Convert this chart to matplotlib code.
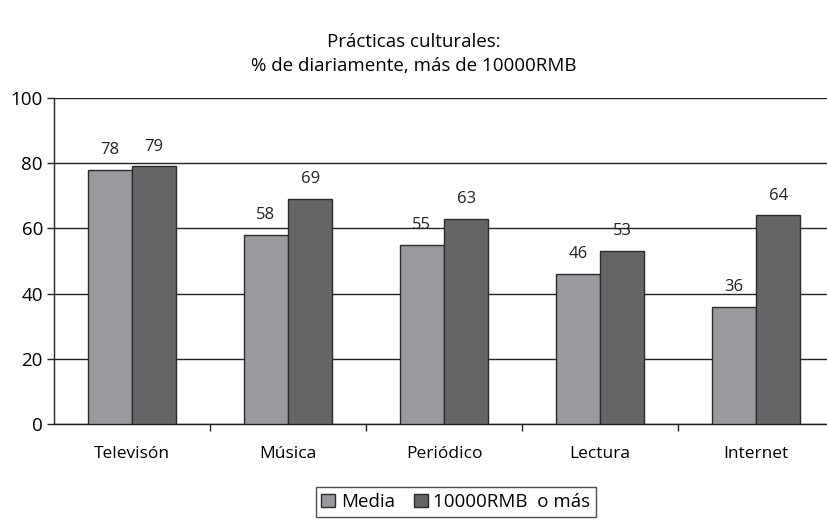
import numpy as np
import matplotlib.pyplot as plt

# Prácticas culturales, % diariamente
categorias = ["Televisón", "Música", "Periódico", "Lectura", "Internet"]
media = [78, 58, 55, 46, 36]
rmb_10000 = [79, 69, 63, 53, 64]
series_labels = ["Media", "10000RMB  o más"]

plt.rcParams["font.family"] = ["Open Sans", "DejaVu Sans"]

fig = plt.figure(figsize=(8.28, 5.22), dpi=100)
# plot area runs slightly past the right edge of the figure
ax = fig.add_axes([54 / 828, 98 / 522, 780 / 828, (424 - 98) / 522])

x = np.arange(len(categorias))
w = 0.285
b1 = ax.bar(x - w / 2, media, w, color="#9a9a9e", edgecolor="#2a2a2a",
            linewidth=1.0, label=series_labels[0], zorder=3)
b2 = ax.bar(x + w / 2, rmb_10000, w, color="#666668", edgecolor="#2a2a2a",
            linewidth=1.0, label=series_labels[1], zorder=3)

for bars, vals in ((b1, media), (b2, rmb_10000)):
    for rect, v in zip(bars, vals):
        ax.text(rect.get_x() + rect.get_width() / 2, v + 3.6, str(v),
                ha="center", va="bottom", fontsize=12, color="#222222")

ax.set_xlim(-0.5, len(categorias) - 0.5)
ax.set_ylim(0, 100)
ax.set_yticks(range(0, 101, 20))
ax.yaxis.grid(True, color="#222222", linewidth=1.0, zorder=0)
ax.set_axisbelow(True)

# category labels sit between the boundary tick marks
ax.set_xticks(x)
ax.set_xticklabels(categorias, fontsize=12.5)
ax.tick_params(axis="x", length=0, pad=16)
ax.set_xticks(np.arange(0.5, len(categorias) - 0.5), minor=True)
ax.tick_params(axis="x", which="minor", length=5, width=1, color="#222222")
ax.tick_params(axis="y", labelsize=13.5, length=5, width=1, color="#222222", pad=3)

for s in ("top", "right"):
    ax.spines[s].set_visible(False)
for s in ("left", "bottom"):
    ax.spines[s].set_color("#222222")
    ax.spines[s].set_linewidth(1.0)

fig.text(0.5, 1 - 42 / 522, "Prácticas culturales:", ha="center", va="center", fontsize=13.5)
fig.text(0.5, 1 - 66 / 522, "% de diariamente, más de 10000RMB", ha="center",
         va="center", fontsize=13.5)

leg = fig.legend(loc="center", bbox_to_anchor=(456 / 828, 1 - 502 / 522), ncol=2,
                 frameon=True, fancybox=False, edgecolor="#222222", fontsize=13.5,
                 handlelength=0.75, handleheight=0.75, handletextpad=0.3,
                 columnspacing=1.0, borderpad=0.3)
leg.get_frame().set_linewidth(1.0)

fig.savefig("out.png", dpi=100)
